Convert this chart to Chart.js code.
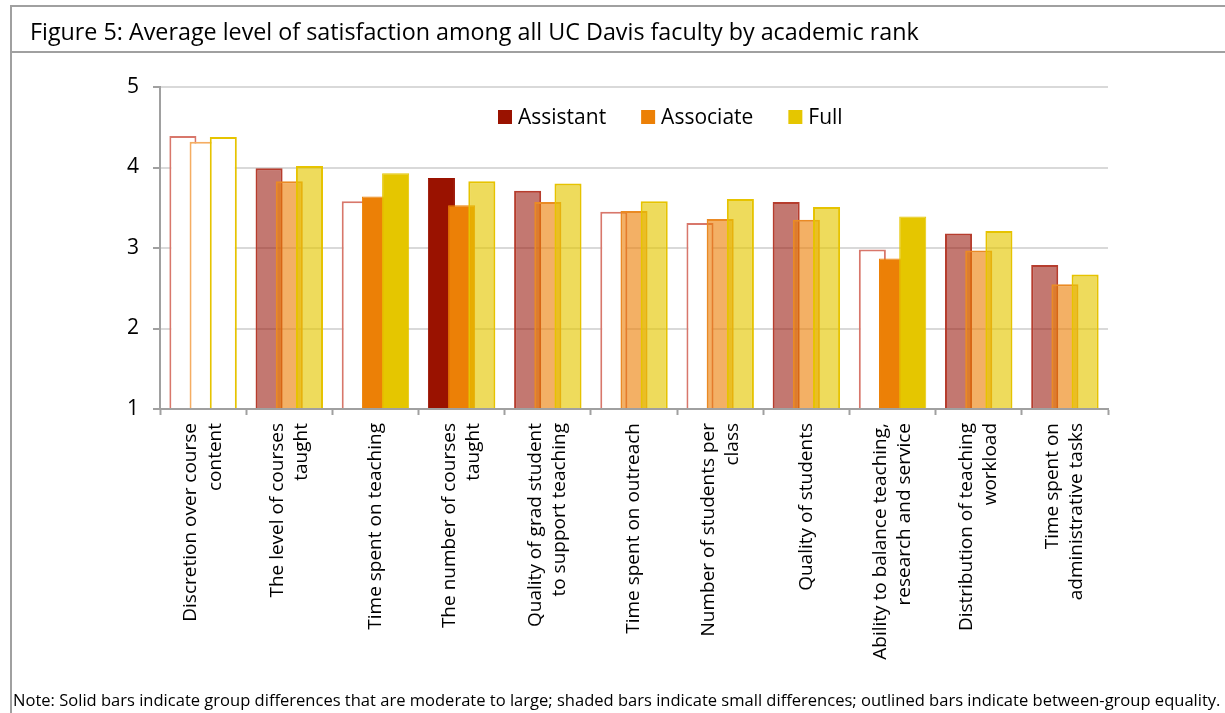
<!DOCTYPE html>
<html>
<head>
<meta charset="utf-8">
<title>Figure 5: Average level of satisfaction among all UC Davis faculty by academic rank</title>
<script src="https://cdn.jsdelivr.net/npm/chart.js@4.4.1/dist/chart.umd.min.js"></script>
<style>
  html, body { margin: 0; padding: 0; background: #fff; }
  body { width: 1225px; height: 713px; position: relative; overflow: hidden; font-family: "Open Sans", sans-serif; color: #000; }
  #wrap { position: absolute; left: 0; top: 0; width: 1225px; height: 713px; }
  .frame { position: absolute; left: 10px; top: 5px; right: 0; bottom: 0; border-top: 2px solid #a0a0a0; border-left: 2px solid #a0a0a0; pointer-events: none; }
  .title { position: absolute; left: 12px; top: 7px; right: 0; height: 44px; border-bottom: 2px solid #a0a0a0; font-size: 23.3px; line-height: 48px; padding-left: 18px; white-space: nowrap; }
  .note { position: absolute; left: 13px; top: 688px; font-size: 16.55px; white-space: nowrap; }
</style>
</head>
<body>
<div id="wrap"><canvas id="chart"></canvas></div>
<div class="frame"></div>
<div class="title">Figure 5: Average level of satisfaction among all UC Davis faculty by academic rank</div>
<div class="note">Note: Solid bars indicate group differences that are moderate to large; shaded bars indicate small differences; outlined bars indicate between-group equality.</div>

<script>
const categories = [
  ['Discretion over course', 'content'],
  ['The level of courses', 'taught'],
  'Time spent on teaching',
  ['The number of courses', 'taught'],
  ['Quality of grad student', 'to support teaching'],
  'Time spent on outreach',
  ['Number of students per', 'class'],
  'Quality of students',
  ['Ability to balance teaching,', 'research and service'],
  ['Distribution of teaching', 'workload'],
  ['Time spent on', 'administrative tasks']
];
const ranks = ['Assistant', 'Associate', 'Full'];

const assistant = [4.39, 3.99, 3.58, 3.87, 3.71, 3.45, 3.31, 3.57, 2.98, 3.18, 2.79];
const associate = [4.32, 3.83, 3.64, 3.53, 3.57, 3.46, 3.36, 3.35, 2.87, 2.97, 2.55];
const full      = [4.38, 4.02, 3.93, 3.83, 3.80, 3.58, 3.61, 3.51, 3.39, 3.21, 2.67];

// size of the group difference behind each bar
const assistantDiff = ['equal', 'small', 'equal', 'large', 'small', 'equal', 'equal', 'small', 'equal', 'small', 'small'];
const associateDiff = ['equal', 'small', 'large', 'large', 'small', 'small', 'small', 'small', 'large', 'small', 'small'];
const fullDiff      = ['equal', 'small', 'large', 'small', 'small', 'small', 'small', 'small', 'large', 'small', 'small'];

const yTicks = [1, 2, 3, 4, 5];

// solid = large difference, shaded = small, outline only = equality
const palette = [
  { solid: '#9a1200', shade: 'rgba(150,18,5,0.57)', shadeLine: '#b63d2e', outline: '#d8776b' },
  { solid: '#ec8006', shade: 'rgba(236,128,6,0.62)', shadeLine: '#ea8a24', outline: '#f5ad62' },
  { solid: '#e5c600', shade: 'rgba(229,198,0,0.64)', shadeLine: '#e6c300', outline: '#e6c400' }
];

const fillFor = (p, d) => d === 'large' ? p.solid : d === 'small' ? p.shade : '#ffffff';
const lineFor = (p, d) => d === 'large' ? p.solid : d === 'small' ? p.shadeLine : p.outline;
const widthFor = d => d === 'large' ? 1 : 2;

const makeDataset = (label, values, diffs, p) => ({
  label,
  data: values,
  backgroundColor: diffs.map(d => fillFor(p, d)),
  borderColor: diffs.map(d => lineFor(p, d)),
  borderWidth: diffs.map(widthFor),
  categoryPercentage: 0.703,
  barPercentage: 1.34
});

// later ranks sit on top of earlier ones where the bars overlap
const drawInOrder = {
  id: 'drawInOrder',
  beforeDatasetsDraw(chart) {
    const { ctx, chartArea: a } = chart;
    ctx.save();
    ctx.beginPath();
    ctx.rect(a.left, a.top, a.right - a.left, a.bottom - a.top);
    ctx.clip();
    chart.data.datasets.forEach((ds, i) => chart.getDatasetMeta(i).controller.draw());
    ctx.restore();
    return false;
  }
};

// centre two-line rotated labels on their tick
const centreLabels = {
  id: 'centreLabels',
  beforeDraw(chart) {
    chart.scales.x.getLabelItems().forEach(item => {
      if (Array.isArray(item.label) && !item.centred) {
        item.textOffset -= (item.label.length - 1) * item.font.lineHeight / 2;
        item.centred = true;
      }
    });
  }
};

// legend row inside the plot, above the bars
const insideLegend = {
  id: 'insideLegend',
  afterDraw(chart) {
    const { ctx, chartArea: a } = chart;
    const box = 14, gap = 6, spacing = 35;
    const cy = a.top + 30;
    let x = a.left + 338;
    ctx.save();
    ctx.font = '21px "Open Sans"';
    ctx.textBaseline = 'middle';
    ctx.textAlign = 'left';
    ranks.forEach((name, i) => {
      ctx.fillStyle = palette[i].solid;
      ctx.fillRect(x, cy - box / 2, box, box);
      ctx.fillStyle = '#000';
      ctx.fillText(name, x + box + gap, cy + 1);
      x += box + gap + ctx.measureText(name).width + spacing;
    });
    ctx.restore();
  }
};

const labelFont = { family: 'Open Sans', size: 19, lineHeight: 1.27 };

new Chart(document.getElementById('chart'), {
  type: 'bar',
  data: {
    labels: categories,
    datasets: [
      makeDataset(ranks[0], assistant, assistantDiff, palette[0]),
      makeDataset(ranks[1], associate, associateDiff, palette[1]),
      makeDataset(ranks[2], full, fullDiff, palette[2])
    ]
  },
  options: {
    responsive: true,
    maintainAspectRatio: false,
    animation: false,
    layout: { padding: { left: 60, top: 87, right: 117, bottom: 30 } },
    plugins: {
      tooltip: { enabled: false },
      legend: { display: false }
    },
    scales: {
      x: {
        grid: { drawOnChartArea: false, drawTicks: true, tickLength: 6, tickColor: '#a0a0a0', tickWidth: 2, offset: true },
        border: { color: '#a0a0a0', width: 2, z: 1 },
        ticks: { autoSkip: false, minRotation: 90, maxRotation: 90, padding: 8, color: '#000', font: labelFont },
        afterFit(scale) { scale.height = 274; }
      },
      y: {
        beginAtZero: false,
        min: yTicks[0],
        max: yTicks[yTicks.length - 1],
        afterBuildTicks(scale) { scale.ticks = yTicks.map(v => ({ value: v })); },
        grid: { color: '#d9d9d9', lineWidth: 2, tickLength: 7, tickColor: '#a0a0a0', tickWidth: 2 },
        border: { color: '#a0a0a0', width: 2, z: 1 },
        ticks: { padding: 14, color: '#000', font: { family: 'Open Sans', size: 21 } },
        afterFit(scale) { scale.width = 100; }
      }
    }
  },
  plugins: [drawInOrder, centreLabels, insideLegend]
});
</script>
</body>
</html>
